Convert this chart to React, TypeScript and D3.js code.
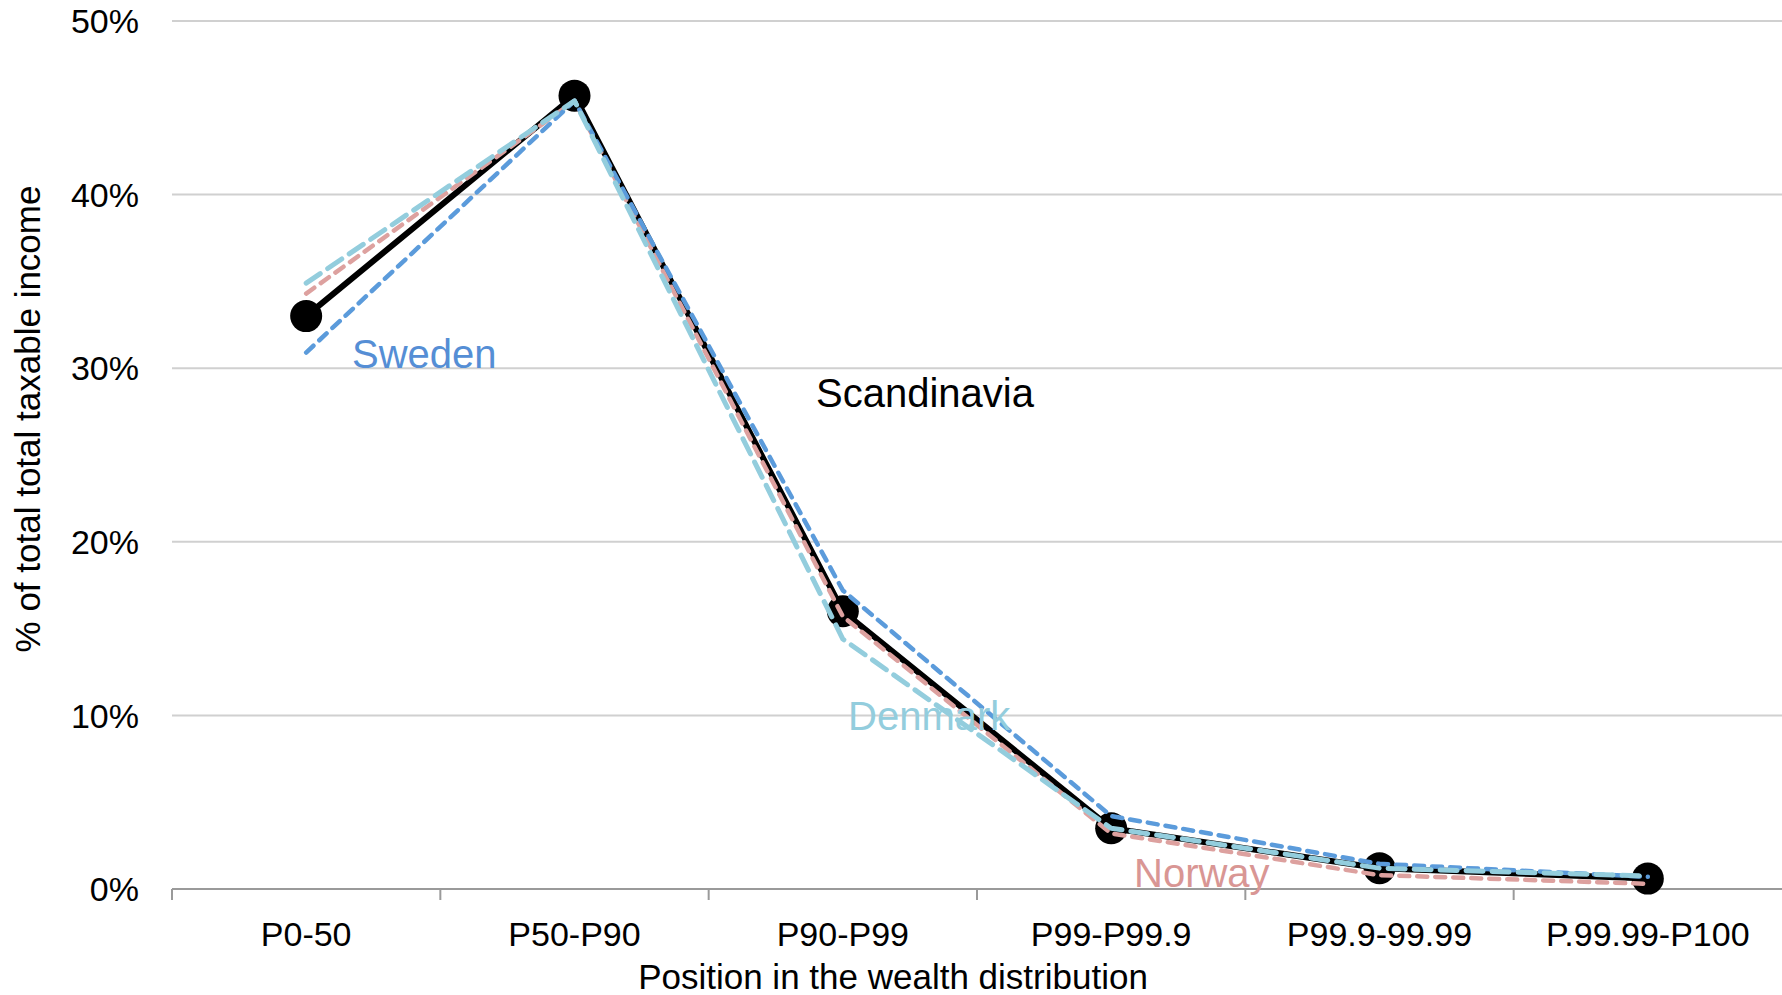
import React from "react";
import * as d3 from "d3";

const categories = [
  "P0-50",
  "P50-P90",
  "P90-P99",
  "P99-P99.9",
  "P99.9-99.99",
  "P.99.99-P100",
];

// shares of total taxable income, in %
const scandinavia = [33.0, 45.7, 16.0, 3.5, 1.2, 0.6];
const sweden = [30.9, 45.4, 17.2, 4.2, 1.45, 0.7];
const norway = [34.3, 45.4, 15.7, 3.2, 0.8, 0.3];
const denmark = [34.9, 45.4, 14.4, 3.5, 1.2, 0.75];

const yTicks = [0, 10, 20, 30, 40, 50];

const W = 1782;
const H = 995;
const FONT = "'Liberation Sans', Arial, sans-serif";

export default function App() {
  const x = d3.scaleBand<string>().domain(categories).range([172, 1782]);
  const y = d3.scaleLinear().domain([0, 50]).range([889, 21]);

  const cx = (i: number) => (x(categories[i]) ?? 0) + x.bandwidth() / 2;

  const line = d3
    .line<number>()
    .x((_, i) => cx(i))
    .y((d) => y(d));

  const dashed = [
    { name: "Norway", values: norway, color: "#DDA19F", width: 4.5, dash: "10 8" },
    { name: "Sweden", values: sweden, color: "#5B9BDB", width: 4.5, dash: "10 8" },
    { name: "Denmark", values: denmark, color: "#93CDDD", width: 5, dash: "17 9" },
  ];

  // boundaries between categories for the tick marks
  const tickXs = categories.map((c) => x(c) ?? 0);

  return (
    <svg
      width={W}
      height={H}
      style={{ position: "absolute", left: 0, top: 0, background: "#fff" }}
      fontFamily={FONT}
    >
      {/* gridlines */}
      {yTicks
        .filter((t) => t > 0)
        .map((t) => (
          <line
            key={t}
            x1={172}
            x2={W}
            y1={y(t)}
            y2={y(t)}
            stroke="#d0d0d0"
            strokeWidth={2}
          />
        ))}

      {/* y tick labels */}
      {yTicks.map((t) => (
        <text
          key={t}
          x={139}
          y={y(t)}
          dy="0.36em"
          textAnchor="end"
          fontSize={34}
          fill="#000"
        >
          {t}%
        </text>
      ))}

      {/* x axis */}
      <line x1={172} x2={W} y1={y(0)} y2={y(0)} stroke="#9a9a9a" strokeWidth={2} />
      {tickXs.map((tx, i) => (
        <line
          key={i}
          x1={tx}
          x2={tx}
          y1={y(0)}
          y2={y(0) + 11}
          stroke="#9a9a9a"
          strokeWidth={2}
        />
      ))}
      {categories.map((c, i) => (
        <text key={c} x={cx(i)} y={946} textAnchor="middle" fontSize={34} fill="#000">
          {c}
        </text>
      ))}

      {/* axis titles */}
      <text x={893} y={989} textAnchor="middle" fontSize={35} fill="#000">
        Position in the wealth distribution
      </text>
      <text
        transform="translate(40,419) rotate(-90)"
        textAnchor="middle"
        fontSize={35}
        fill="#000"
      >
        % of total total taxable income
      </text>

      {/* Scandinavia */}
      <path d={line(scandinavia) ?? ""} fill="none" stroke="#000" strokeWidth={6} />
      {scandinavia.map((v, i) => (
        <circle key={i} cx={cx(i)} cy={y(v)} r={16} fill="#000" />
      ))}

      {/* countries */}
      {dashed.map((s) => (
        <path
          key={s.name}
          d={line(s.values) ?? ""}
          fill="none"
          stroke={s.color}
          strokeWidth={s.width}
          strokeDasharray={s.dash}
          strokeLinecap="round"
          strokeLinejoin="round"
        />
      ))}

      {/* series labels */}
      <text x={352} y={368} fontSize={40} fill="#558ED5">
        Sweden
      </text>
      <text x={816} y={407} fontSize={40} fill="#000">
        Scandinavia
      </text>
      <text x={848} y={730} fontSize={40} fill="#93CDDD">
        Denmark
      </text>
      <text x={1134} y={887} fontSize={40} fill="#D99694">
        Norway
      </text>
    </svg>
  );
}
